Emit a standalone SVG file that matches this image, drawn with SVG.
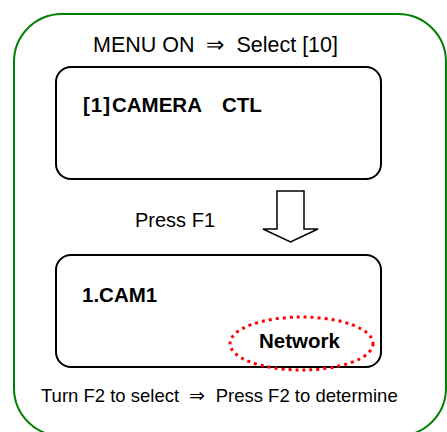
<svg xmlns="http://www.w3.org/2000/svg" width="447" height="432" viewBox="0 0 447 432">
<style>
.frame{fill:none;stroke:#008000;stroke-width:2}
.box{fill:#fff;stroke:#000;stroke-width:2}
.t{font-family:"Liberation Sans",Arial,sans-serif;fill:#000;white-space:pre}
.b{font-family:"Liberation Sans",Arial,sans-serif;font-weight:bold;fill:#000;font-size:20.5px;white-space:pre}
.sel{fill:none;stroke:#f00;stroke-width:3;stroke-dasharray:3 4}
</style>
<rect width="447" height="432" fill="#fff"/>
<rect class="frame" x="14" y="14" width="432" height="422" rx="48" ry="48"/>
<text class="t" x="93" y="52" font-size="21.5" xml:space="preserve">MENU ON  ⇒  Select [10]</text>
<g id="screen1">
<rect class="box" x="56" y="67" width="325" height="112" rx="15" ry="15"/>
<text class="b" y="112" font-size="21.5" xml:space="preserve"><tspan x="83" letter-spacing="1">[1]</tspan><tspan x="112">CAMERA</tspan><tspan x="222">CTL</tspan></text>
</g>
<text class="t" x="135" y="227" font-size="20">Press F1</text>
<g id="connectors">
<polygon points="277,191 304,191 304,229 318,229 290.5,242 263,229 277,229" fill="#fff" stroke="#000" stroke-width="1.5" stroke-linejoin="miter"/>
</g>
<g id="screen2">
<rect class="box" x="56" y="255" width="325" height="112" rx="15" ry="15"/>
<text class="b" x="82" y="302">1.CAM1</text>
<text class="b" x="259" y="348">Network</text>
<ellipse class="sel" cx="301.5" cy="343.5" rx="71.5" ry="26.5"/>
</g>
<text class="t" x="41" y="402" font-size="18.5" xml:space="preserve">Turn F2 to select  ⇒  Press F2 to determine</text>
</svg>
